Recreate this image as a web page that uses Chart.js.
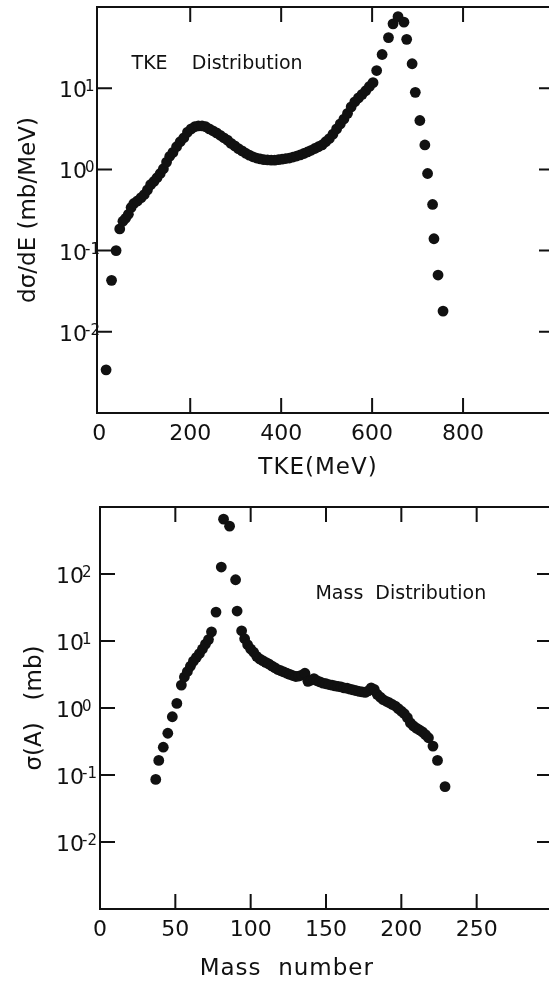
<!DOCTYPE html>
<html>
<head>
<meta charset="utf-8">
<title>TKE and mass distributions</title>
<script src="https://cdn.jsdelivr.net/npm/chart.js@4.4.1/dist/chart.umd.min.js"></script>
<style>
  html, body { margin: 0; padding: 0; background: #fff; overflow: hidden; }
  .panel { width: 560px; }
  canvas { display: block; }
</style>
</head>
<body>
<div class="panel"><canvas id="tke-chart" width="560" height="480"></canvas></div>
<div class="panel"><canvas id="mass-chart" width="560" height="501"></canvas></div>
<script>
// --- TKE distribution (dσ/dE in mb/MeV vs TKE in MeV) ---
const tkeEnergy = [15, 27, 37, 45, 52, 58, 64, 70, 76, 84, 92, 99, 106, 113, 120, 127, 134, 141, 148, 155, 162,
  170, 178, 186, 194, 202, 210, 218, 226, 234, 242, 250, 258, 266, 274, 282, 290, 298, 306, 314, 322,
  330, 338, 346, 354, 362, 370, 378, 386, 394, 402, 410, 418, 426, 434, 442, 450, 458, 466, 474, 482,
  490, 498, 506, 514, 522, 530, 538, 546, 554, 562, 570, 578, 586, 594, 602,
  610, 622, 636, 646, 657, 670, 676, 688, 695, 705, 716, 722, 733, 736, 745, 756];
const tkeCrossSection = [0.0034, 0.043, 0.10, 0.185, 0.23, 0.25, 0.28, 0.34, 0.38, 0.41, 0.45, 0.49, 0.56, 0.65, 0.71, 0.79, 0.89, 1.02, 1.23, 1.45, 1.62,
  1.9, 2.19, 2.45, 2.88, 3.16, 3.35, 3.43, 3.43, 3.35, 3.16, 2.99, 2.82, 2.63, 2.45, 2.29, 2.09, 1.95, 1.80, 1.69, 1.58,
  1.50, 1.43, 1.38, 1.35, 1.32, 1.31, 1.30, 1.30, 1.32, 1.34, 1.36, 1.38, 1.42, 1.46, 1.51, 1.57, 1.64, 1.72, 1.81, 1.90,
  2.0, 2.19, 2.40, 2.72, 3.16, 3.63, 4.17, 4.9, 5.9, 6.8, 7.6, 8.4, 9.3, 10.5, 11.7,
  16.5, 26, 42, 62, 76, 65, 40, 20, 8.9, 4.0, 2.0, 0.89, 0.37, 0.14, 0.050, 0.018];
const tkeTickValues = [0, 200, 400, 600, 800];
const tkeTickMarks = [200, 400, 600, 800];
const tkeDecades = [1e-2, 1e-1, 1, 10];

// --- Mass distribution (σ(A) in mb vs mass number) ---
const massNumber = [37, 39, 42, 45, 48, 51, 54, 56, 58, 60, 62, 64, 66, 68, 70, 72, 74,
  77, 80.5, 82, 86, 90, 91, 94, 96, 98,
  100, 102, 104, 106, 108, 110, 112, 114, 116, 118, 120, 122, 124, 126, 128, 130, 132, 134, 136, 138,
  140, 142, 144, 146, 148, 150, 152, 154, 156, 158, 160, 162, 164, 166, 168, 170, 172, 174, 176, 178,
  180, 182, 184, 186, 188, 190, 192, 194, 196, 198, 200, 202, 204, 206, 208, 210, 212, 214, 216, 218,
  221, 224, 229];
const massCrossSection = [0.086, 0.165, 0.26, 0.42, 0.74, 1.17, 2.2, 2.9, 3.5, 4.2, 5.0, 5.7, 6.5, 7.6, 9.0, 10.5, 13.7,
  27, 127, 658, 518, 82, 28, 14.2, 10.8, 8.8,
  7.6, 6.8, 5.9, 5.4, 5.1, 4.8, 4.55, 4.25, 4.0, 3.75, 3.6, 3.45, 3.3, 3.18, 3.05, 2.95, 3.0, 3.1, 3.3, 2.5,
  2.6, 2.75, 2.55, 2.45, 2.35, 2.3, 2.24, 2.2, 2.14, 2.1, 2.06, 2.0, 1.97, 1.91, 1.86, 1.82, 1.77, 1.74, 1.71, 1.8,
  2.0, 1.9, 1.6, 1.45, 1.33, 1.26, 1.2, 1.13, 1.07, 0.98, 0.9, 0.82, 0.72, 0.6, 0.54, 0.5, 0.47, 0.44, 0.40, 0.36,
  0.27, 0.165, 0.067];
const massTickValues = [0, 50, 100, 150, 200, 250];
const massTickMarks = [50, 100, 150, 200, 250];
const massDecades = [1e-2, 1e-1, 1, 10, 100];

const INK = '#111';
const FONT = '"DejaVu Sans", sans-serif';
const TICK_LEN = 15;

Chart.defaults.font.family = FONT;
Chart.defaults.color = INK;

// Box frame, inward tick marks on all four sides and "10^n" decade labels
const framePlugin = {
  id: 'frame',
  beforeDatasetsDraw(chart, args, opts) {
    const { ctx, chartArea: a, scales: { x, y } } = chart;
    ctx.save();
    ctx.strokeStyle = INK;
    ctx.lineWidth = 2;
    ctx.strokeRect(a.left, a.top, a.right - a.left, a.bottom - a.top);

    ctx.beginPath();
    opts.xMarks.forEach(v => {
      const px = x.getPixelForValue(v);
      ctx.moveTo(px, a.bottom); ctx.lineTo(px, a.bottom - TICK_LEN);
      ctx.moveTo(px, a.top); ctx.lineTo(px, a.top + TICK_LEN);
    });
    y.ticks.forEach(t => {
      const py = y.getPixelForValue(t.value);
      ctx.moveTo(a.left, py); ctx.lineTo(a.left + TICK_LEN, py);
      ctx.moveTo(a.right, py); ctx.lineTo(a.right - TICK_LEN, py);
    });
    ctx.stroke();

    // decade labels: "10" with a raised exponent
    ctx.fillStyle = INK;
    y.ticks.forEach(t => {
      const py = y.getPixelForValue(t.value);
      const exp = String(Math.round(Math.log10(t.value)));
      const baseRight = a.left - opts.labelGap;
      ctx.font = '22px ' + FONT;
      ctx.textAlign = 'right';
      ctx.textBaseline = 'alphabetic';
      ctx.fillText('10', baseRight, py + 9);
      ctx.font = '15px ' + FONT;
      ctx.textAlign = 'left';
      ctx.fillText(exp, baseRight - 2, py + 3);
    });
    ctx.restore();
  }
};

// Panel caption and x-axis title
const captionPlugin = {
  id: 'captions',
  afterDraw(chart, args, opts) {
    const { ctx, chartArea: a, scales: { x, y } } = chart;
    ctx.save();
    ctx.fillStyle = INK;
    ctx.textBaseline = 'alphabetic';

    ctx.font = '19px ' + FONT;
    ctx.textAlign = 'left';
    ctx.fillText(opts.panel.text, x.getPixelForValue(opts.panel.x), y.getPixelForValue(opts.panel.y));

    ctx.font = '23px ' + FONT;
    ctx.letterSpacing = '1px';
    ctx.textAlign = 'center';
    ctx.fillText(opts.axis.text, x.getPixelForValue(opts.axis.x), a.bottom + opts.axis.dy);
    ctx.restore();
  }
};

function buildChart(canvasId, cfg) {
  return new Chart(document.getElementById(canvasId), {
    type: 'scatter',
    data: {
      datasets: [{
        data: cfg.xs.map((v, i) => ({ x: v, y: cfg.ys[i] })),
        backgroundColor: INK,
        borderWidth: 0,
        pointRadius: 5.4,
        pointHoverRadius: 5.4
      }]
    },
    options: {
      responsive: false,
      animation: false,
      events: [],
      layout: { padding: cfg.padding },
      plugins: {
        legend: { display: false },
        tooltip: { enabled: false },
        frame: { xMarks: cfg.xMarks, labelGap: cfg.labelGap },
        captions: { panel: cfg.panel, axis: cfg.axisX }
      },
      scales: {
        x: {
          type: 'linear',
          min: cfg.xMin,
          max: cfg.xMax,
          grid: { display: false, drawTicks: false },
          border: { display: false },
          ticks: {
            autoSkip: false,
            maxRotation: 0,
            padding: 8,
            font: { size: 22 },
            color: INK,
            callback: v => String(v)
          },
          afterBuildTicks: scale => { scale.ticks = cfg.xTicks.map(v => ({ value: v })); },
          afterFit: scale => { scale.height = cfg.xHeight; }
        },
        y: {
          type: 'logarithmic',
          min: cfg.yMin,
          max: cfg.yMax,
          grid: { display: false, drawTicks: false },
          border: { display: false },
          ticks: { display: false },
          title: {
            display: true,
            text: cfg.axisY,
            font: { size: 23 },
            color: INK,
            padding: { top: cfg.yTitlePad, bottom: 0 }
          },
          afterBuildTicks: scale => { scale.ticks = cfg.decades.map(v => ({ value: v })); },
          afterFit: scale => { scale.width = cfg.yWidth; }
        }
      }
    },
    plugins: [framePlugin, captionPlugin]
  });
}

buildChart('tke-chart', {
  xs: tkeEnergy, ys: tkeCrossSection,
  xMin: -5, xMax: 1000, yMin: 1e-3, yMax: 1e2,
  xTicks: tkeTickValues, xMarks: tkeTickMarks, decades: tkeDecades,
  padding: { left: 0, right: 6, top: 7, bottom: 0 },
  yWidth: 97, xHeight: 67, yTitlePad: 15, labelGap: 10,
  axisY: 'dσ/dE (mb/MeV)',
  axisX: { text: 'TKE(MeV)', x: 481, dy: 61 },
  panel: { text: 'TKE    Distribution', x: 71, y: 17.3 }
});

buildChart('mass-chart', {
  xs: massNumber, ys: massCrossSection,
  xMin: 0, xMax: 300, yMin: 1e-3, yMax: 1e3,
  xTicks: massTickValues, xMarks: massTickMarks, decades: massDecades,
  padding: { left: 0, right: 8, top: 27, bottom: 0 },
  yWidth: 100, xHeight: 72, yTitlePad: 21, labelGap: 16,
  axisY: 'σ(A)   (mb)',
  axisX: { text: 'Mass  number', x: 124, dy: 66 },
  panel: { text: 'Mass  Distribution', x: 143, y: 43 }
});
</script>
</body>
</html>
